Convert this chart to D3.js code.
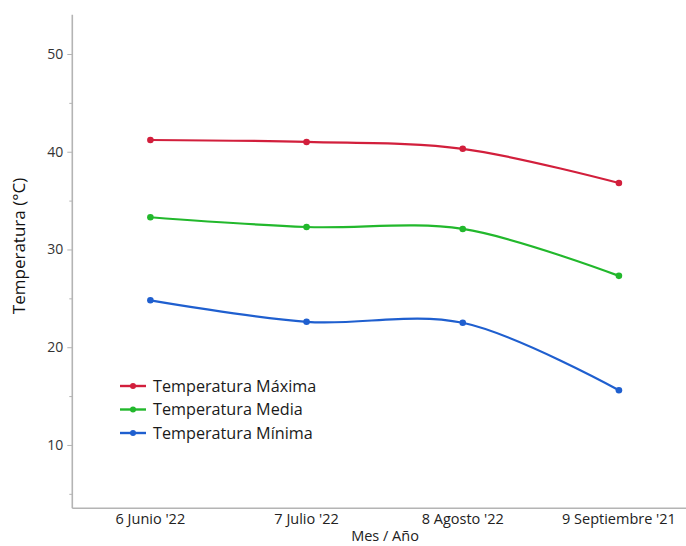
<!DOCTYPE html>
<html>
<head>
<meta charset="utf-8">
<script src="https://cdn.jsdelivr.net/npm/d3@7"></script>
<style>
  html, body { margin: 0; padding: 0; background: #fff; }
  svg { display: block; font-family: "Open Sans", "Noto Sans", sans-serif; }
</style>
</head>
<body>
<svg id="chart" width="686" height="546"></svg>
<script>
const categories = ["6 Junio '22", "7 Julio '22", "8 Agosto '22", "9 Septiembre '21"];
const tempMax = [41.2, 41.0, 40.3, 36.8];
const tempMedia = [33.3, 32.3, 32.1, 27.3];
const tempMin = [24.8, 22.6, 22.5, 15.6];
const seriesNames = ["Temperatura Máxima", "Temperatura Media", "Temperatura Mínima"];
const seriesColors = ["#d21f3c", "#22b82c", "#1f5fcf"];
const yMajorTicks = [10, 20, 30, 40, 50];
const yMinorTicks = [5, 15, 25, 35, 45];

const series = [tempMax, tempMedia, tempMin].map((v, i) => ({ name: seriesNames[i], color: seriesColors[i], values: v }));

const svg = d3.select("#chart");
const mLeft = 72.3, mRight = 697, mTop = 14.7, mBottom = 508.3;

const x = d3.scaleBand().domain(categories).range([mLeft, mRight]);
const y = d3.scaleLinear().domain([3.52, 54.02]).range([mBottom, mTop]);

const axisColor = "#b4b4b4";

// Y axis
const yAxis = svg.append("g").attr("transform", `translate(${mLeft},0)`)
  .call(d3.axisLeft(y).tickValues(yMajorTicks).tickSize(5).tickPadding(4));
yAxis.select(".domain").remove();
yAxis.selectAll(".tick line").attr("stroke", axisColor).attr("stroke-width", 1);
yAxis.selectAll(".tick text").attr("fill", "#333").attr("font-size", 14)
  .attr("font-family", "'Open Sans', 'Noto Sans', sans-serif");

const yMinor = svg.append("g").attr("transform", `translate(${mLeft},0)`)
  .call(d3.axisLeft(y).tickValues(yMinorTicks).tickSize(3).tickFormat(""));
yMinor.select(".domain").remove();
yMinor.selectAll(".tick line").attr("stroke", axisColor).attr("stroke-width", 1);

svg.append("line").attr("x1", mLeft).attr("x2", mLeft).attr("y1", mTop).attr("y2", mBottom)
  .attr("stroke", axisColor).attr("stroke-width", 1.6);

// X axis
const xAxis = svg.append("g").attr("transform", `translate(0,${mBottom})`)
  .call(d3.axisBottom(x).tickSize(0).tickPadding(5));
xAxis.select(".domain").remove();
xAxis.selectAll(".tick text").attr("fill", "#222").attr("font-size", 14.5)
  .attr("font-family", "'Open Sans', 'Noto Sans', sans-serif");
svg.append("line").attr("x1", mLeft).attr("x2", mRight).attr("y1", mBottom).attr("y2", mBottom)
  .attr("stroke", axisColor).attr("stroke-width", 1.6);

// Axis titles
svg.append("text").attr("x", 385).attr("y", 541).attr("text-anchor", "middle")
  .attr("font-size", 14.5).attr("fill", "#222").text("Mes / Año");
svg.append("text").attr("transform", `translate(25,246) rotate(-90)`).attr("text-anchor", "middle")
  .attr("font-size", 17).attr("fill", "#111").text("Temperatura (°C)");

// Lines
const cx = c => x(c) + x.bandwidth() / 2;
const line = d3.line().x((d, i) => cx(categories[i])).y(d => y(d)).curve(d3.curveCatmullRom.alpha(0.5));

series.forEach(s => {
  svg.append("path").attr("d", line(s.values)).attr("fill", "none")
    .attr("stroke", s.color).attr("stroke-width", 2.2);
  svg.append("g").selectAll("circle").data(s.values).join("circle")
    .attr("cx", (d, i) => cx(categories[i])).attr("cy", d => y(d)).attr("r", 3.3)
    .attr("fill", s.color);
});

// Legend
const legend = svg.append("g");
series.forEach((s, i) => {
  const ly = 386 + i * 23.5;
  legend.append("line").attr("x1", 120).attr("x2", 146).attr("y1", ly).attr("y2", ly)
    .attr("stroke", s.color).attr("stroke-width", 2.4);
  legend.append("circle").attr("cx", 133).attr("cy", ly).attr("r", 3).attr("fill", s.color);
  legend.append("text").attr("x", 153).attr("y", ly + 5.5).attr("font-size", 16.2)
    .attr("fill", "#1a1a1a").text(s.name);
});
</script>
</body>
</html>
